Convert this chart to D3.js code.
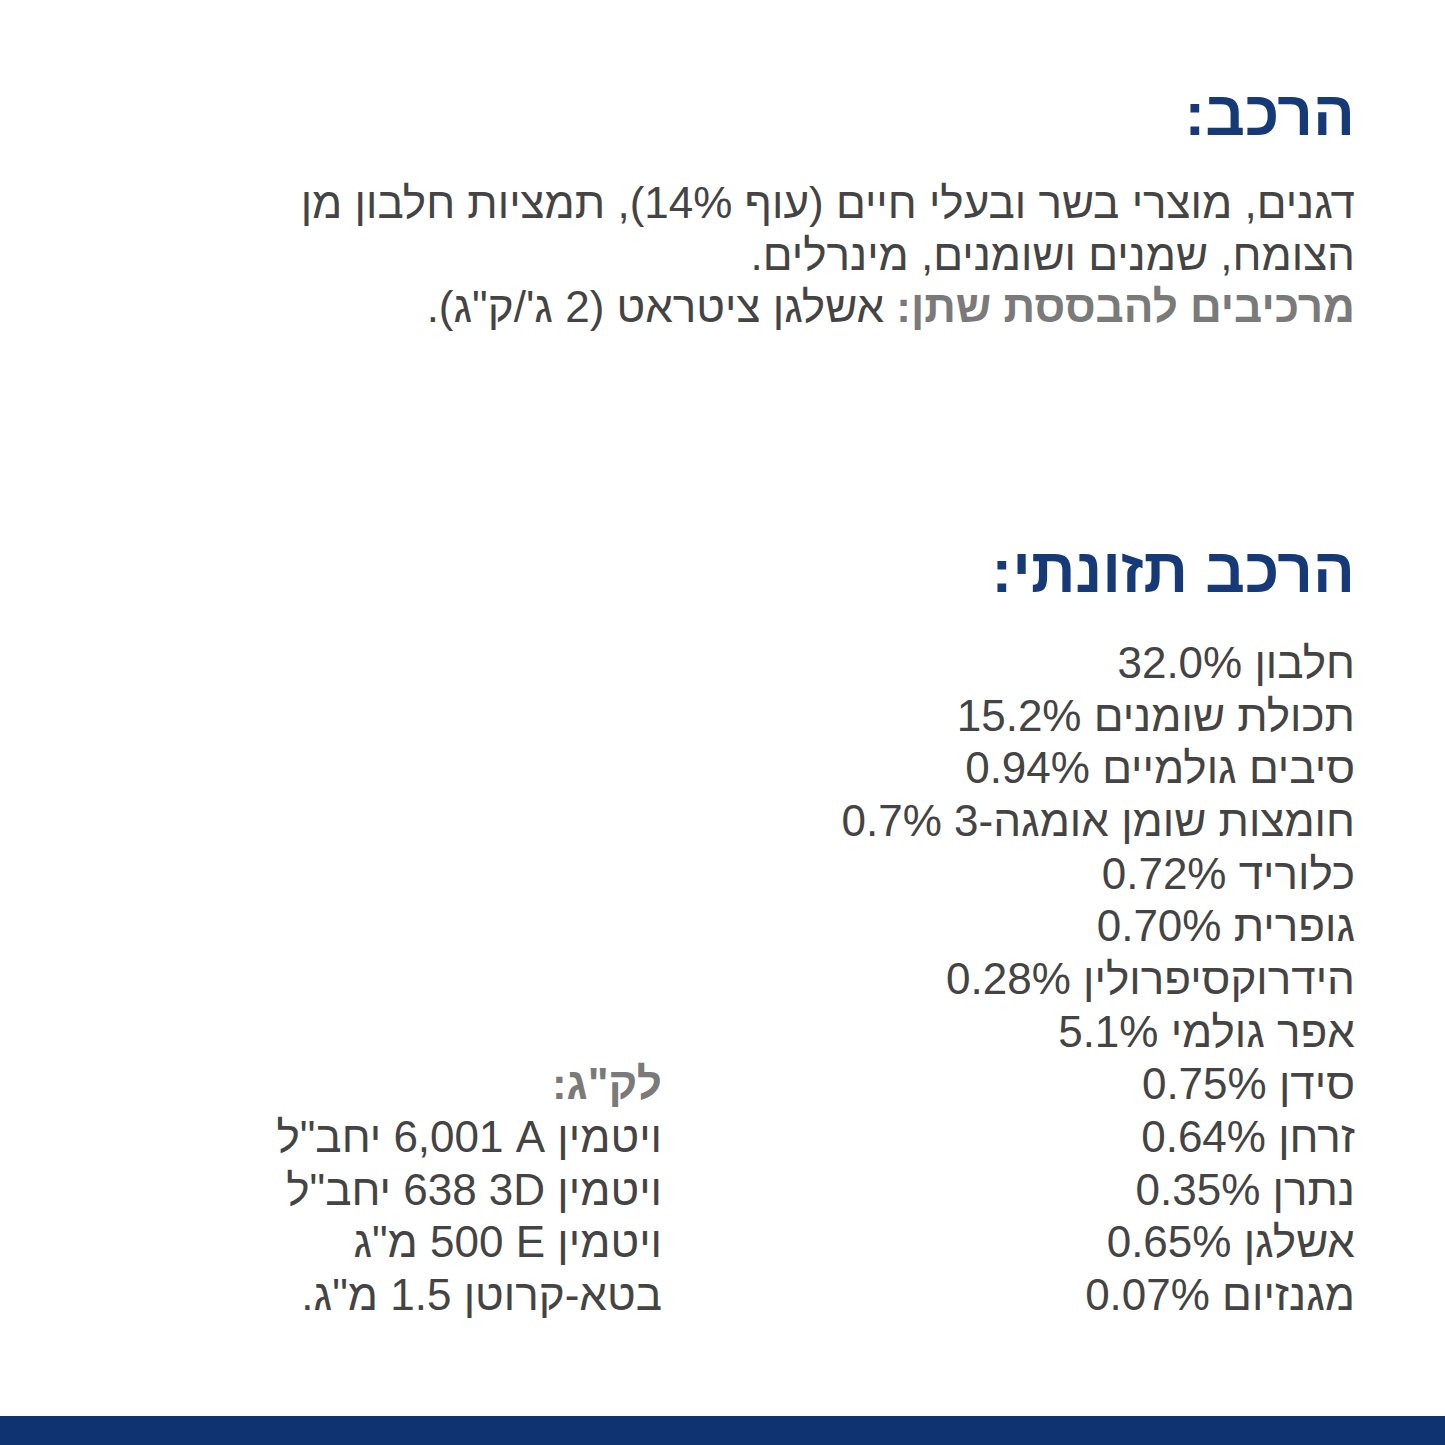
<!DOCTYPE html>
<html><head><meta charset="utf-8">
<script src="https://cdn.jsdelivr.net/npm/d3@7"></script>
<style>body{margin:0;background:#fff}text{font-family:"Liberation Sans",Arial,sans-serif}</style>
</head><body>
<script>
// composition text
const title1 = "הרכב:";
const compLines = ["דגנים, מוצרי בשר ובעלי חיים (עוף 14%), תמציות חלבון מן", "הצומח, שמנים ושומנים, מינרלים."];
const urineBold = "מרכיבים להבססת שתן:";
const urineRest = " אשלגן ציטראט (2 ג'/ק\"ג).";
const title2 = "הרכב תזונתי:";
// nutrients
const nutrients = ["חלבון", "תכולת שומנים", "סיבים גולמיים", "חומצות שומן אומגה-3", "כלוריד", "גופרית", "הידרוקסיפרולין", "אפר גולמי", "סידן", "זרחן", "נתרן", "אשלגן", "מגנזיום"];
const nutrientValues = ["32.0%", "15.2%", "0.94%", "0.7%", "0.72%", "0.70%", "0.28%", "5.1%", "0.75%", "0.64%", "0.35%", "0.65%", "0.07%"];
const perKgTitle = "לק\"ג:";
const vitamins = ["ויטמין A\u200F 6,001 יחב\"ל", "ויטמין 3D\u200F 638 יחב\"ל", "ויטמין E\u200F 500 מ\"ג", "בטא-קרוטן 1.5 מ\"ג."];

const W = 1445, H = 1445;
const svg = d3.select("body").append("svg").attr("width", W).attr("height", H);
const blue = "#163a78", gray = "#444", lightGray = "#7a7a7a";
const fs = 44;

const y = d3.scaleLinear().domain([0, 12]).range([678, 1310]);

function rt(x, yy, s, opt = {}) {
  return svg.append("text").attr("x", x).attr("y", yy)
    .attr("direction", "rtl").attr("text-anchor", "start")
    .attr("font-size", opt.size || fs).attr("font-weight", opt.bold ? "bold" : "normal")
    .attr("fill", opt.color || gray).text(s);
}

rt(1355, 135, title1, {size: 62, bold: true, color: blue});
compLines.forEach((l, i) => rt(1355, 218 + i * 52, l));
const t3 = svg.append("text").attr("x", 1355).attr("y", 322).attr("direction", "rtl")
  .attr("text-anchor", "start").attr("font-size", fs);
t3.append("tspan").attr("font-weight", "bold").attr("fill", lightGray).text(urineBold);
t3.append("tspan").attr("fill", gray).text(urineRest);

rt(1355, 592, title2, {size: 62, bold: true, color: blue});

svg.selectAll("text.nut").data(nutrients).enter().append("text")
  .attr("class", "nut").attr("x", 1355).attr("y", (d, i) => y(i))
  .attr("direction", "rtl").attr("text-anchor", "start").attr("font-size", fs).attr("fill", gray)
  .text((d, i) => d + " " + nutrientValues[i]);

rt(662, y(8), perKgTitle, {bold: true, color: lightGray});
svg.selectAll("text.vit").data(vitamins).enter().append("text")
  .attr("class", "vit").attr("x", 662).attr("y", (d, i) => y(9 + i))
  .attr("direction", "rtl").attr("text-anchor", "start").attr("font-size", fs).attr("fill", gray)
  .text(d => d);

svg.append("rect").attr("x", 0).attr("y", 1416).attr("width", W).attr("height", 29).attr("fill", "#0f3370");
</script>
</body></html>
